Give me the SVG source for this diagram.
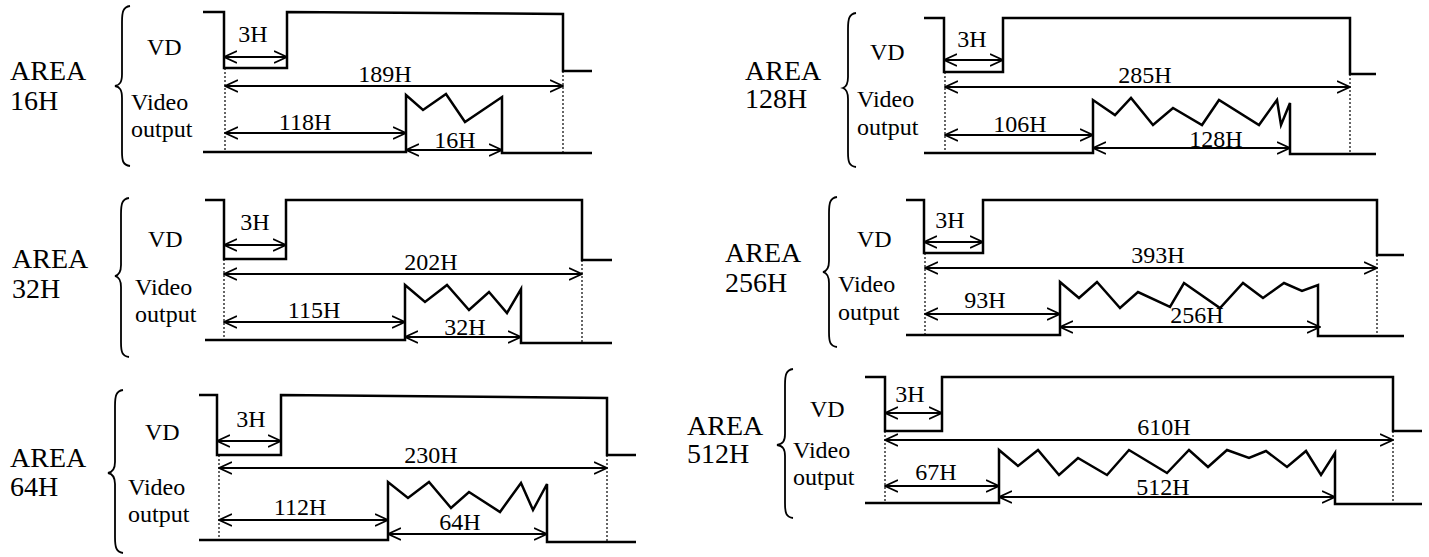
<svg xmlns="http://www.w3.org/2000/svg" width="1429" height="557" viewBox="0 0 1429 557">
<style>
text{font-family:"Liberation Serif","Times New Roman",serif;fill:#000}
.area{font-size:28px}
.lbl{font-size:24px}
.dim{font-size:24px;text-anchor:middle}
.wave{fill:none;stroke:#000;stroke-width:2.5;stroke-linejoin:miter}
.brace{fill:none;stroke:#000;stroke-width:1.8}
.dot{stroke:#000;stroke-width:1.2;stroke-dasharray:2 2;fill:none}
.arr{stroke:#000;stroke-width:2;fill:none;marker-start:url(#ah);marker-end:url(#ah)}
</style>
<defs>
<marker id="ah" viewBox="0 -7 14 14" refX="13" refY="0" markerWidth="14" markerHeight="14" markerUnits="userSpaceOnUse" orient="auto-start-reverse">
<path d="M0,-6 L13,0 L0,6" fill="none" stroke="#000" stroke-width="1.8"/>
</marker>
</defs>
<rect width="1429" height="557" fill="#fff"/>

<g id="area16">
<text class="area" x="10" y="80">AREA</text>
<text class="area" x="10" y="110">16H</text>
<path class="brace" d="M130,6 C123,7 122,12 122,22 L122,74 C122,82 120,85 115,86 C120,87 122,90 122,98 L122,152 C122,161 123,165 130,166"/>
<text class="lbl" x="147" y="55">VD</text>
<text class="lbl" x="131" y="110">Video</text>
<text class="lbl" x="131" y="137">output</text>
<path class="wave" d="M203,12 H224 V68 H287 V12 L563,14 V71 H592"/>
<path class="wave" d="M203,152 H406 V95 L423,110 L446,94 L465,122 L502,97 V153 H592"/>
<path class="dot" d="M225,68 V152 M563,71 V153"/>
<text class="dim" x="253" y="42">3H</text>
<text class="dim" x="385" y="82">189H</text>
<text class="dim" x="305" y="130">118H</text>
<text class="dim" x="455" y="148">16H</text>
</g>

<g id="area32">
<text class="area" x="12" y="268">AREA</text>
<text class="area" x="12" y="298">32H</text>
<path class="brace" d="M129,198 C122,199 121,204 121,214 L121,265 C121,272 119,275 115,276 C119,277 121,280 121,287 L121,342 C121,352 122,356 129,357"/>
<text class="lbl" x="148" y="247">VD</text>
<text class="lbl" x="135" y="295">Video</text>
<text class="lbl" x="135" y="322">output</text>
<path class="wave" d="M205,200 H224 V259 H286 V200 H582 V260 H612"/>
<path class="wave" d="M205,340 H405 V285 L425,302 L447,285 L469,310 L489,292 L507,313 L521,289 V343 H612"/>
<path class="dot" d="M224,259 V340 M582,260 V342"/>
<text class="dim" x="255" y="230">3H</text>
<text class="dim" x="431" y="270">202H</text>
<text class="dim" x="314" y="318">115H</text>
<text class="dim" x="465" y="335">32H</text>
</g>

<g id="area64">
<text class="area" x="10" y="467">AREA</text>
<text class="area" x="10" y="496">64H</text>
<path class="brace" d="M123,390 C116,391 115,396 115,406 L115,462 C115,469 113,472 108,473 C113,474 115,477 115,484 L115,537 C115,547 116,552 123,553"/>
<text class="lbl" x="145" y="440">VD</text>
<text class="lbl" x="128" y="495">Video</text>
<text class="lbl" x="128" y="522">output</text>
<path class="wave" d="M199,395 H217 V455 H281 V395 L607,398 V455 H636"/>
<path class="wave" d="M199,540 H388 V482 L408,498 L429,482 L451,508 L469,492 L500,512 L521,483 L533,510 L547,484 V542 H636"/>
<path class="dot" d="M219,455 V540 M607,455 V541"/>
<text class="dim" x="251" y="427">3H</text>
<text class="dim" x="431" y="463">230H</text>
<text class="dim" x="300" y="515">112H</text>
<text class="dim" x="460" y="530">64H</text>
</g>

<g id="area128">
<text class="area" x="745" y="80">AREA</text>
<text class="area" x="745" y="108">128H</text>
<path class="brace" d="M856,13 C849,14 848,19 848,29 L848,77 C848,84 846,87 843,88 C846,89 848,92 848,99 L848,152 C848,162 849,166 856,167"/>
<text class="lbl" x="870" y="60">VD</text>
<text class="lbl" x="857" y="107">Video</text>
<text class="lbl" x="857" y="135">output</text>
<path class="wave" d="M924,18 H944 V72 H1003 V18 H1350 V74 H1376"/>
<path class="wave" d="M924,153 H1093 V100 L1115,115 L1131,98 L1153,125 L1173,108 L1202,125 L1219,100 L1259,125 L1277,100 L1281,125 L1290,103 V154 H1376"/>
<path class="dot" d="M945,72 V153 M1350,74 V154"/>
<text class="dim" x="972" y="47">3H</text>
<text class="dim" x="1145" y="83">285H</text>
<text class="dim" x="1020" y="132">106H</text>
<text class="dim" x="1216" y="147">128H</text>
</g>

<g id="area256">
<text class="area" x="725" y="262">AREA</text>
<text class="area" x="725" y="292">256H</text>
<path class="brace" d="M837,197 C830,198 829,203 829,213 L829,261 C829,268 827,271 823,272 C827,273 829,276 829,283 L829,332 C829,342 830,346 837,347"/>
<text class="lbl" x="857" y="247">VD</text>
<text class="lbl" x="838" y="292">Video</text>
<text class="lbl" x="838" y="320">output</text>
<path class="wave" d="M906,200 H924 V253 H983 V200 H1377 V255 H1404"/>
<path class="wave" d="M906,335 H1060 V282 L1079,298 L1097,282 L1120,308 L1138,292 L1170,307 L1184,283 L1220,308 L1243,283 L1263,298 L1284,283 L1302,291 L1318,285 V336 H1404"/>
<path class="dot" d="M925,253 V335 M1377,255 V336"/>
<text class="dim" x="950" y="228">3H</text>
<text class="dim" x="1158" y="263">393H</text>
<text class="dim" x="985" y="308">93H</text>
<text class="dim" x="1197" y="323">256H</text>
</g>

<g id="area512">
<text class="area" x="687" y="435">AREA</text>
<text class="area" x="687" y="463">512H</text>
<path class="brace" d="M793,369 C786,370 785,375 785,385 L785,434 C785,441 783,444 777,445 C783,446 785,449 785,456 L785,503 C785,513 786,517 793,518"/>
<text class="lbl" x="810" y="417">VD</text>
<text class="lbl" x="793" y="458">Video</text>
<text class="lbl" x="793" y="485">output</text>
<path class="wave" d="M865,377 H885 V431 H942 V377 H1393 V431 H1422"/>
<path class="wave" d="M865,503 H999 V450 L1018,466 L1038,450 L1059,475 L1078,458 L1107,475 L1129,450 L1167,473 L1189,450 L1208,467 L1227,450 L1249,458 L1266,451 L1287,467 L1306,451 L1321,475 L1335,453 V504 H1422"/>
<path class="dot" d="M885,431 V503 M1393,431 V504"/>
<text class="dim" x="910" y="402">3H</text>
<text class="dim" x="1164" y="435">610H</text>
<text class="dim" x="936" y="480">67H</text>
<text class="dim" x="1163" y="495">512H</text>
</g>

<g id="connectors">
<line class="arr" x1="224" y1="57" x2="287" y2="57"/>
<line class="arr" x1="225" y1="86" x2="563" y2="86"/>
<line class="arr" x1="225" y1="133" x2="406" y2="133"/>
<line class="arr" x1="406" y1="150" x2="502" y2="150"/>

<line class="arr" x1="224" y1="245" x2="286" y2="245"/>
<line class="arr" x1="224" y1="274" x2="582" y2="274"/>
<line class="arr" x1="224" y1="322" x2="405" y2="322"/>
<line class="arr" x1="405" y1="337" x2="521" y2="337"/>

<line class="arr" x1="217" y1="441" x2="281" y2="441"/>
<line class="arr" x1="219" y1="468" x2="607" y2="468"/>
<line class="arr" x1="219" y1="520" x2="388" y2="520"/>
<line class="arr" x1="388" y1="534" x2="547" y2="534"/>

<line class="arr" x1="944" y1="60" x2="1003" y2="60"/>
<line class="arr" x1="945" y1="87" x2="1350" y2="87"/>
<line class="arr" x1="945" y1="135" x2="1093" y2="135"/>
<line class="arr" x1="1093" y1="148" x2="1290" y2="148"/>

<line class="arr" x1="924" y1="242" x2="983" y2="242"/>
<line class="arr" x1="925" y1="268" x2="1377" y2="268"/>
<line class="arr" x1="925" y1="314" x2="1060" y2="314"/>
<line class="arr" x1="1060" y1="327" x2="1320" y2="327"/>

<line class="arr" x1="885" y1="413" x2="942" y2="413"/>
<line class="arr" x1="885" y1="440" x2="1393" y2="440"/>
<line class="arr" x1="885" y1="486" x2="999" y2="486"/>
<line class="arr" x1="999" y1="497" x2="1335" y2="497"/>
</g>
</svg>
